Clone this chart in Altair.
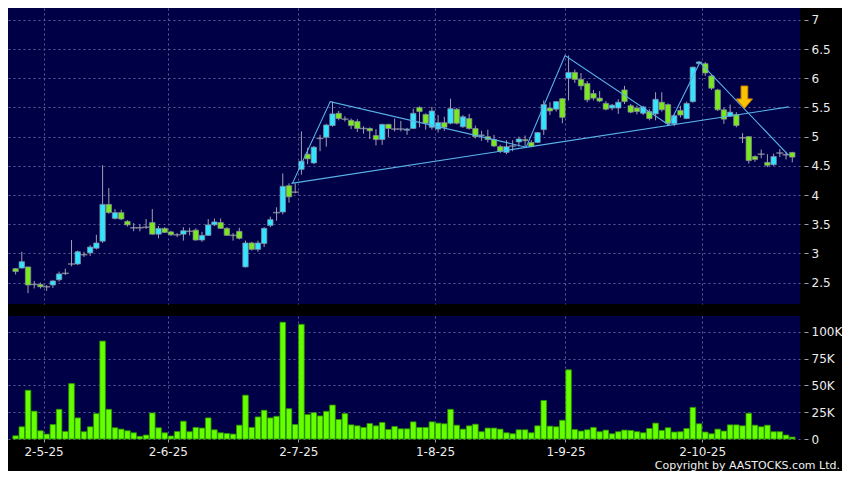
import json
import altair as alt
import pandas as pd

# ---------------- data ----------------
opens = [2.74, 2.75, 2.77, 2.47, 2.47, 2.43, 2.46, 2.55, 2.66, 2.82,
         2.82, 2.98, 3.01, 3.09, 3.21, 3.84, 3.60, 3.70, 3.55, 3.44,
         3.44, 3.45, 3.53, 3.33, 3.43, 3.37, 3.32, 3.33, 3.38, 3.40,
         3.23, 3.31, 3.49, 3.53, 3.43, 3.31, 3.38, 2.77, 3.18, 3.07,
         3.17, 3.48, 3.70, 3.71, 4.16, 4.05, 4.44, 4.70, 4.55, 4.97,
         4.99, 5.19, 5.40, 5.30, 5.28, 5.26, 5.14, 5.14, 5.02, 4.95,
         5.21, 5.13, 5.13, 5.11, 5.14, 5.50, 5.38, 5.16, 5.13, 5.24,
         5.23, 5.47, 5.17, 5.31, 5.14, 5.02, 5.00, 4.95, 4.83, 4.73,
         4.84, 4.91, 4.95, 4.90, 4.90, 5.12, 5.49, 5.47, 5.65, 6.00,
         6.10, 5.98, 5.91, 5.74, 5.66, 5.57, 5.49, 5.49, 5.80, 5.53,
         5.49, 5.40, 5.43, 5.39, 5.59, 5.55, 5.22, 5.45, 5.31, 5.60,
         6.25, 6.25, 6.04, 5.80, 5.46, 5.35, 5.38, 4.98, 5.00, 4.66,
         4.70, 4.56, 4.52, 4.72, 4.69, 4.73]
highs = [2.75, 3.03, 2.77, 2.53, 2.50, 2.46, 2.54, 2.69, 2.74, 3.23,
         3.05, 3.03, 3.14, 3.32, 4.51, 4.12, 3.76, 3.75, 3.57, 3.52,
         3.50, 3.59, 3.76, 3.47, 3.45, 3.39, 3.35, 3.45, 3.44, 3.43,
         3.37, 3.59, 3.60, 3.60, 3.45, 3.35, 3.44, 3.22, 3.20, 3.22,
         3.45, 3.63, 3.79, 4.37, 4.20, 4.20, 5.09, 4.81, 4.84, 5.03,
         5.22, 5.60, 5.44, 5.35, 5.31, 5.30, 5.18, 5.16, 5.13, 5.22,
         5.22, 5.31, 5.27, 5.15, 5.48, 5.52, 5.40, 5.51, 5.37, 5.34,
         5.65, 5.49, 5.37, 5.39, 5.19, 5.10, 5.12, 5.03, 4.86, 4.94,
         4.94, 5.00, 5.02, 4.94, 5.08, 5.62, 5.59, 5.61, 5.66, 6.39,
         6.15, 6.09, 5.95, 5.80, 5.78, 5.61, 5.56, 5.64, 5.87, 5.56,
         5.53, 5.53, 5.47, 5.76, 5.76, 5.57, 5.38, 5.53, 5.60, 6.20,
         6.29, 6.28, 6.06, 5.82, 5.50, 5.55, 5.42, 5.06, 5.01, 4.68,
         4.78, 4.70, 4.71, 4.79, 4.74, 4.74]
lows = [2.64, 2.74, 2.32, 2.40, 2.40, 2.36, 2.41, 2.52, 2.63, 2.78,
        2.80, 2.94, 2.96, 3.07, 3.18, 3.68, 3.58, 3.57, 3.46, 3.38,
        3.38, 3.42, 3.32, 3.26, 3.35, 3.30, 3.28, 3.22, 3.31, 3.22,
        3.20, 3.30, 3.47, 3.42, 3.30, 3.22, 3.24, 2.76, 3.05, 3.03,
        3.11, 3.45, 3.56, 3.67, 3.87, 4.03, 4.35, 4.53, 4.53, 4.75,
        4.83, 5.17, 5.28, 5.26, 5.13, 5.08, 5.05, 4.96, 4.85, 4.86,
        4.99, 5.09, 5.09, 5.03, 5.13, 5.16, 5.12, 5.12, 5.07, 5.10,
        5.21, 5.21, 5.15, 5.12, 4.97, 4.93, 4.90, 4.82, 4.72, 4.70,
        4.75, 4.83, 4.83, 4.82, 4.89, 5.03, 5.37, 5.43, 5.23, 5.62,
        5.92, 5.80, 5.59, 5.62, 5.59, 5.45, 5.45, 5.39, 5.56, 5.40,
        5.38, 5.37, 5.28, 5.28, 5.43, 5.18, 5.18, 5.33, 5.30, 5.58,
        6.24, 6.04, 5.80, 5.44, 5.22, 5.34, 5.16, 4.89, 4.54, 4.57,
        4.63, 4.48, 4.50, 4.65, 4.61, 4.56]
closes = [2.69, 2.86, 2.46, 2.47, 2.43, 2.43, 2.53, 2.65, 2.66, 2.82,
          3.03, 2.98, 3.11, 3.18, 3.84, 3.70, 3.70, 3.59, 3.49, 3.44,
          3.44, 3.45, 3.33, 3.43, 3.36, 3.32, 3.32, 3.39, 3.38, 3.23,
          3.31, 3.49, 3.54, 3.43, 3.31, 3.31, 3.26, 3.18, 3.07, 3.18,
          3.43, 3.58, 3.70, 4.15, 3.97, 4.05, 4.58, 4.62, 4.82, 4.97,
          5.20, 5.39, 5.31, 5.30, 5.19, 5.14, 5.14, 5.10, 4.95, 5.21,
          5.14, 5.13, 5.13, 5.13, 5.40, 5.43, 5.23, 5.44, 5.24, 5.16,
          5.48, 5.23, 5.34, 5.14, 5.00, 5.03, 4.95, 4.84, 4.75, 4.83,
          4.84, 4.96, 4.93, 4.83, 5.07, 5.55, 5.44, 5.60, 5.33, 6.10,
          5.98, 5.87, 5.63, 5.66, 5.61, 5.47, 5.54, 5.59, 5.60, 5.42,
          5.43, 5.51, 5.31, 5.64, 5.46, 5.23, 5.36, 5.37, 5.57, 6.19,
          6.28, 6.09, 5.83, 5.46, 5.30, 5.42, 5.19, 4.98, 4.59, 4.61,
          4.70, 4.51, 4.66, 4.72, 4.69, 4.65]
volumes_k = [3, 11.4, 45.5, 26, 7.7, 4.6, 13.5, 27.7, 7, 51.7,
             19.7, 6.8, 11.4, 23.7, 91.4, 27.7, 10.5, 9.2, 7.7, 5.8,
             2.5, 3.7, 24.3, 10.5, 5.8, 2.8, 7, 16.6, 6.8, 10.8,
             10.2, 19.7, 8.6, 5.8, 5.2, 4.6, 12.9, 40.9, 10.8, 20.6,
             26.8, 19.7, 21.2, 109, 28.3, 13.5, 107, 22.8, 24.6, 21.5,
             25.8, 31.7, 18.2, 23.7, 13.2, 12.3, 10.8, 14.5, 12.3, 15.4,
             8.9, 11.7, 9.5, 9.5, 16, 10.8, 10.8, 16, 14.8, 14.2,
             27.7, 12.9, 9.2, 12.3, 13.8, 6.8, 10.2, 10.2, 9.2, 5.8,
             4.9, 8.6, 8.6, 5.8, 12.3, 36, 12, 11.4, 17.5, 64.6,
             8.9, 7.4, 8.6, 10.8, 6.8, 8.3, 4.9, 6.8, 8.3, 8,
             6.8, 5.8, 9.8, 14.8, 8, 10.5, 6.5, 6.8, 9.8, 29.5,
             14.2, 6.5, 4.9, 9.2, 7.4, 13.2, 13.2, 12.3, 24, 12.9,
             11.4, 12.9, 6.8, 6.8, 3.7, 1.8]

date_tick_pos = [4.5, 24.5, 45.5, 67.5, 88.5, 110.5]
date_tick_labels = ["2-5-25", "2-6-25", "2-7-25", "1-8-25", "1-9-25", "2-10-25"]
price_ticks = [2.5, 3, 3.5, 4, 4.5, 5, 5.5, 6, 6.5, 7]
volume_ticks = [0, 25000, 50000, 75000, 100000]

zigzag_idx = [44.55, 50.64, 82.18, 88.43, 105.14, 110.13, 124.35]
zigzag_price = [4.20, 5.60, 4.82, 6.39, 5.20, 6.27, 4.69]
support_idx = [44.39, 124.45]
support_price = [4.20, 5.51]
arrow_idx = [117.3]
arrow_price = [5.675]
copyright_text = ["Copyright by AASTOCKS.com Ltd."]

# ---------------- tables ----------------
df = pd.DataFrame({
    "i": list(range(len(opens))),
    "open": opens, "high": highs, "low": lows, "close": closes,
    "volume": [v * 1000 for v in volumes_k],
})
zig_df = pd.DataFrame({"i": zigzag_idx, "p": zigzag_price})
sup_df = pd.DataFrame({"i": support_idx, "p": support_price})
arrow_df = pd.DataFrame({"i": arrow_idx, "p": arrow_price})
copy_df = pd.DataFrame({"t": copyright_text})

# ---------------- style ----------------
W = 792
H1 = 296
H2 = 123
NAVY = "#000046"
CYAN = "#33e4ff"
GREEN = "#7ae81e"
GRAY = "#a0a0ae"
GRID = "#5c5c96"
LINE = "#5ab4ea"
FONT = "DejaVu Sans"

X_DOMAIN = [-0.42, 125.44]
x_scale = alt.Scale(domain=X_DOMAIN, nice=False, zero=False)
p_scale = alt.Scale(domain=[2.135, 7.203], nice=False, zero=False)
v_scale = alt.Scale(domain=[0, 114800], nice=False, zero=False)

grid_kw = dict(grid=True, gridColor=GRID, gridDash=[2, 3], gridWidth=1)

x_top_axis = alt.Axis(values=date_tick_pos, labels=False, ticks=False, domain=False,
                      title=None, **grid_kw)
label_expr = f"{json.dumps(date_tick_labels)}[indexof({json.dumps(date_tick_pos)}, datum.value)]"
x_bot_axis = alt.Axis(values=date_tick_pos, labelExpr=label_expr, ticks=True, tickSize=3,
                      tickColor=GRAY, domain=False, title=None, labelPadding=4,
                      labelColor="#ececec", labelFont=FONT, labelFontSize=12, **grid_kw)
p_axis = alt.Axis(orient="right", values=price_ticks, format="~g", domain=False,
                  tickColor=GRAY, tickSize=4, offset=4, labelPadding=3, title=None,
                  labelColor="#ececec", labelFont=FONT, labelFontSize=12, **grid_kw)
v_axis = alt.Axis(orient="right", values=volume_ticks,
                  labelExpr="datum.value == 0 ? '0' : (datum.value / 1000) + 'K'",
                  domain=False, tickColor=GRAY, tickSize=4, offset=4, labelPadding=3,
                  title=None, labelColor="#ececec", labelFont=FONT, labelFontSize=12,
                  **grid_kw)


def xt(field="i"):
    return alt.X(f"{field}:Q", scale=x_scale, axis=x_top_axis)


def yp(field):
    return alt.Y(f"{field}:Q", scale=p_scale, axis=p_axis)


candle_color = alt.condition("datum.close > datum.open", alt.value(CYAN), alt.value(GREEN))

base = alt.Chart(df)
wicks = base.mark_rule(color=GRAY, strokeWidth=1).encode(
    x=xt(), y=yp("low"), y2="high:Q")
bodies = base.transform_filter("datum.open != datum.close").mark_bar(
    size=5.4, stroke="#8a8aa2", strokeWidth=0.7).encode(
    x=xt(), y=yp("open"), y2="close:Q", fill=candle_color)
dojis = base.transform_filter("datum.open == datum.close").mark_tick(
    orient="horizontal", size=7, thickness=1.5, color="#a8a8b4").encode(
    x=xt(), y=yp("open"))
zig = alt.Chart(zig_df).mark_line(color=LINE, strokeWidth=1.1).encode(
    x=xt(), y=yp("p"), order="i:Q")
sup = alt.Chart(sup_df).mark_line(color=LINE, strokeWidth=1.1).encode(
    x=xt(), y=yp("p"), order="i:Q")
ARROW = "M-0.3,-1 L0.3,-1 L0.3,0.15 L0.72,0.15 L0,1 L-0.72,0.15 L-0.3,0.15 Z"
arrow = alt.Chart(arrow_df).mark_point(
    shape=ARROW, size=500, filled=True, fill="#f7c300", stroke="#d88400",
    strokeWidth=1, opacity=1).encode(x=xt(), y=yp("p"))

price = alt.layer(wicks, bodies, dojis, sup, zig, arrow).properties(width=W, height=H1)

vol_bars = alt.Chart(df).mark_bar(size=5.6, fill="#66ff00", stroke="#2c9400",
                                  strokeWidth=0.8).encode(
    x=alt.X("i:Q", scale=x_scale, axis=x_bot_axis),
    y=alt.Y("volume:Q", scale=v_scale, axis=v_axis))
copy_txt = alt.Chart(copy_df).mark_text(
    align="right", baseline="bottom", color="#f0f0f0", font=FONT, fontSize=11).encode(
    x=alt.value(W + 40), y=alt.value(H2 + 32), text="t:N")
volume = alt.layer(vol_bars, copy_txt).properties(width=W, height=H2)

chart = alt.vconcat(price, volume, spacing=12).properties(
    background="black", padding=0
).configure_view(fill=NAVY, stroke=None)

chart.save("out.html", embed_options={"renderer": "svg", "actions": False})
